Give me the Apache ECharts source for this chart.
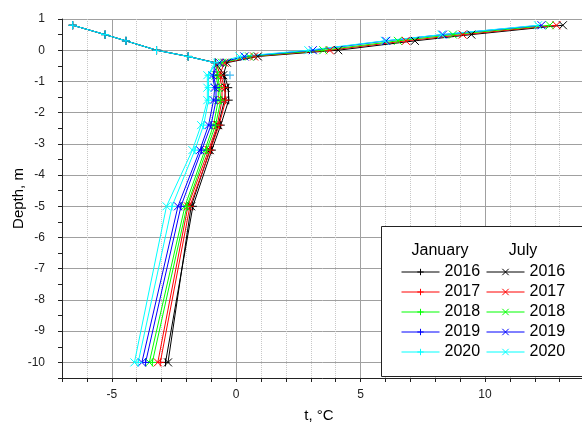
<!DOCTYPE html>
<html><head><meta charset="utf-8">
<script src="https://cdn.jsdelivr.net/npm/echarts@6/dist/echarts.min.js"></script>
<style>html,body{margin:0;padding:0;background:#fff}#c{width:582px;height:429px}</style>
</head><body><div id="c"></div>
<script>
const depths = [0.8, 0.5, 0.3, 0, -0.2, -0.4, -0.8, -1.2, -1.6, -2.4, -3.2, -5, -10];
const years = ['2016', '2017', '2018', '2019', '2020'];
const colors = ['#000000', '#ff0000', '#00ff00', '#0000ff', '#00ffff'];

const jan2016 = [-6.57, -5.27, -4.43, -3.2, -1.93, -0.83, -0.47, -0.32, -0.3, -0.62, -0.98, -1.74, -2.84];
const jan2017 = [-6.57, -5.27, -4.43, -3.2, -1.93, -0.84, -0.62, -0.47, -0.42, -0.69, -1.04, -1.86, -3.05];
const jan2018 = [-6.57, -5.27, -4.43, -3.2, -1.93, -0.85, -0.74, -0.67, -0.62, -0.83, -1.19, -1.98, -3.37];
const jan2019 = [-6.57, -5.27, -4.43, -3.2, -1.93, -0.86, -0.91, -0.81, -0.81, -1.01, -1.39, -2.22, -3.64];
const jan2020 = [-6.57, -5.27, -4.43, -3.2, -1.93, -0.87, -1.11, -1.11, -1.11, -1.31, -1.66, -2.58, -3.94];

const jul2016 = [13.13, 9.45, 7.18, 4.1, 0.87, -0.37, -0.52, -0.42, -0.47, -0.72, -1.06, -1.81, -2.74];
const jul2017 = [12.87, 9.1, 6.82, 3.76, 0.72, -0.47, -0.67, -0.57, -0.57, -0.76, -1.11, -1.94, -3.15];
const jul2018 = [12.6, 8.71, 6.5, 3.5, 0.52, -0.57, -0.81, -0.72, -0.72, -0.91, -1.26, -2.06, -3.49];
const jul2019 = [12.27, 8.31, 6.03, 3.08, 0.33, -0.67, -0.96, -0.86, -0.91, -1.11, -1.46, -2.34, -3.79];
const jul2020 = [12.13, 8.25, 5.97, 2.9, 0.13, -0.76, -1.16, -1.16, -1.16, -1.41, -1.76, -2.8, -4.09];

// isolated January point seen at -0.8 m
const janExtraT = [-0.25];
const janExtraD = [-0.8];

const janData = [jan2016, jan2017, jan2018, jan2019, jan2020];
const julData = [jul2016, jul2017, jul2018, jul2019, jul2020];

const FONT = 'Liberation Sans, Arial, sans-serif';
const PLUS = 'path://M0,4L8,4M4,0L4,8';
const CROSS = 'path://M0,0L8,8M8,0L0,8';

function mkSeries(prefix, vals, idx, symbol) {
  const c = colors[idx];
  return {
    name: prefix + ' ' + years[idx],
    type: 'line',
    data: depths.map((d, i) => [vals[i], d]),
    symbol: symbol,
    symbolSize: 8,
    showAllSymbol: true,
    lineStyle: { color: c, width: 1 },
    itemStyle: { color: c, borderColor: c, borderWidth: 1 },
    emphasis: { disabled: true },
    z: 2
  };
}

const series = [];
julData.forEach((v, i) => series.push(mkSeries('Jul', v, i, CROSS)));
janData.forEach((v, i) => series.push(mkSeries('Jan', v, i, PLUS)));
series.push({
  name: 'extra',
  type: 'scatter',
  data: janExtraT.map((t, i) => [t, janExtraD[i]]),
  symbol: PLUS,
  symbolSize: 8,
  itemStyle: { color: '#10a8f0', borderColor: '#10a8f0', borderWidth: 1.2 },
  z: 3
});

const janNames = years.map(y => 'Jan ' + y);
const julNames = years.map(y => 'Jul ' + y);

const legendCommon = {
  orient: 'vertical',
  top: 264,
  padding: 0,
  itemWidth: 38,
  itemHeight: 8,
  itemGap: 4,
  selectedMode: false,
  lineStyle: { width: 1 },
  itemStyle: { borderWidth: 1 },
  formatter: n => n.split(' ')[1],
  textStyle: { fontSize: 16, color: '#000', fontFamily: FONT },
  z: 6
};

const option = {
  animation: false,
  backgroundColor: '#fff',
  textStyle: { fontFamily: FONT },
  grid: { left: 62, top: 19, width: 535, height: 359, containLabel: false, outerBoundsMode: 'none' },
  xAxis: [
    {
      type: 'value', min: -7, max: 14.5, interval: 1,
      name: 't, °C', nameLocation: 'middle', nameGap: 30, nameMoveOverlap: false,
      nameTextStyle: { fontSize: 15, color: '#000', fontFamily: FONT, padding: [0, 21, 0, 0] },
      axisLine: { show: true, onZero: false, lineStyle: { color: '#222', width: 1 } },
      axisTick: { show: true, length: 4, lineStyle: { color: '#222' } },
      axisLabel: { formatter: v => (v % 5 === 0 ? String(v) : ''), fontSize: 12, color: '#222', margin: 11, fontFamily: FONT },
      splitLine: { show: true, showMinLine: true, showMaxLine: true,
        lineStyle: { type: 'dotted', width: 1, color: ['#c8c8c8', '#c8c8c8', 'rgba(0,0,0,0)', '#c8c8c8', '#c8c8c8'] } }
    },
    {
      type: 'value', min: -7, max: 14.5, interval: 1, position: 'bottom',
      axisLine: { show: false }, axisTick: { show: false }, axisLabel: { show: false },
      splitLine: { show: true, showMinLine: true, showMaxLine: true,
        lineStyle: { type: 'solid', width: 1, color: ['rgba(0,0,0,0)', 'rgba(0,0,0,0)', '#a0a0a0', 'rgba(0,0,0,0)', 'rgba(0,0,0,0)'] } }
    }
  ],
  yAxis: {
    type: 'value', min: -10.5, max: 1, interval: 0.5,
    name: 'Depth, m', nameLocation: 'middle', nameGap: 36, nameRotate: 90, nameMoveOverlap: false,
    nameTextStyle: { fontSize: 15, color: '#000', fontFamily: FONT },
    axisLine: { show: true, onZero: false, lineStyle: { color: '#222', width: 1 } },
    axisTick: { show: true, length: 4, lineStyle: { color: '#222' } },
    axisLabel: { formatter: v => (Number.isInteger(v) ? String(v) : ''), fontSize: 12, color: '#222', margin: 17, fontFamily: FONT },
    splitLine: { show: true, showMinLine: true, showMaxLine: true,
      lineStyle: { type: 'solid', width: 1, color: ['rgba(0,0,0,0)', '#a0a0a0'] } }
  },
  legend: [
    Object.assign({}, legendCommon, { data: janNames, left: 401 }),
    Object.assign({}, legendCommon, { data: julNames, left: 486 })
  ],
  graphic: {
    elements: [
      { type: 'rect', z: 4, shape: { x: 381.5, y: 226.5, width: 240, height: 150 },
        style: { fill: '#fff', stroke: '#222', lineWidth: 1 } },
      { type: 'text', z: 7, x: 440, y: 251,
        style: { text: 'January', fontSize: 16, fontFamily: FONT, fill: '#000', align: 'center', verticalAlign: 'middle' } },
      { type: 'text', z: 7, x: 523, y: 251,
        style: { text: 'July', fontSize: 16, fontFamily: FONT, fill: '#000', align: 'center', verticalAlign: 'middle' } }
    ]
  },
  series: series
};

const chart = echarts.init(document.getElementById('c'), null, { renderer: 'canvas' });
chart.setOption(option);
</script>
</body></html>
